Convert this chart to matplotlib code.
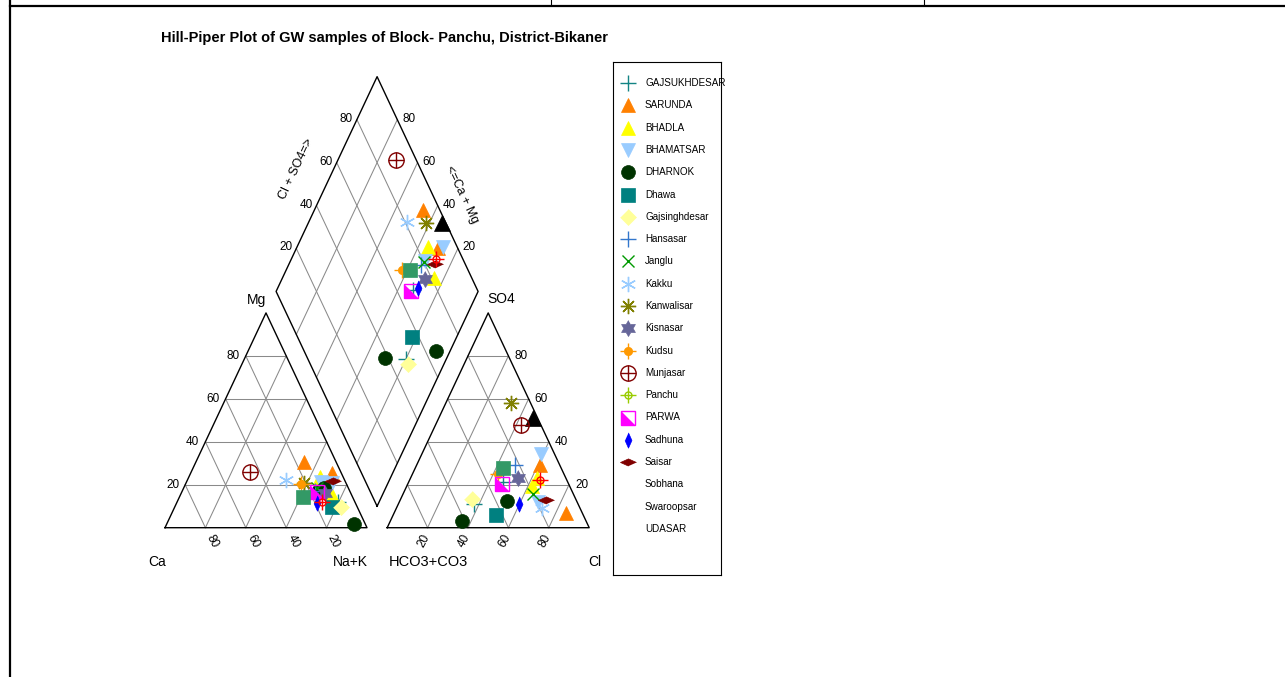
import numpy as np
import matplotlib.pyplot as plt
from matplotlib.lines import Line2D

plt.rcParams['font.family'] = ['Liberation Sans', 'DejaVu Sans']

W, H = 1285, 677

# --- sample data (% meq/l), one row per sample ---
site = ['GAJSUKHDESAR', 'GAJSUKHDESAR', 'SARUNDA', 'SARUNDA', 'BHADLA', 'BHADLA',
        'BHAMATSAR', 'BHAMATSAR', 'DHARNOK', 'DHARNOK', 'Dhawa', 'Gajsinghdesar',
        'Hansasar', 'Janglu', 'Kakku', 'Kanwalisar', 'Kisnasar', 'Kudsu', 'Munjasar',
        'PARWA', 'Sadhuna', 'Saisar', 'Sobhana', 'Swaroopsar', 'UDASAR']
ca   = [8.1, 16.5, 15.7, 4.7, 11.3, 9.7, 6.7, 12.0, 12.3, 5.5, 12.5, 8.0,
        17.3, 15.3, 29.0, 20.7, 13.0, 22.5, 44.9, 16.4, 19.1, 5.8, 24.2, 16.3, 16.1]
mg   = [12.1, 16.0, 30.6, 25.4, 23.8, 15.3, 21.0, 21.3, 18.4, 1.6, 9.8, 9.8,
        17.0, 18.5, 22.3, 21.0, 16.0, 20.2, 26.0, 16.8, 11.4, 21.8, 14.5, 12.1, 18.0]
nak  = [79.8, 67.5, 53.7, 69.9, 64.9, 75.0, 72.3, 66.7, 69.3, 92.9, 77.7, 82.2,
        65.7, 66.2, 48.7, 58.3, 71.0, 57.3, 29.1, 66.8, 69.5, 72.4, 61.3, 71.6, 65.9]
hco3 = [51.6, 31.7, 8.2, 9.7, 14.3, 18.7, 6.9, 19.2, 61.6, 34.6, 43.4, 51.4,
        22.0, 19.9, 18.8, 9.7, 23.4, 32.6, 9.9, 33.0, 29.1, 15.0, 28.5, 13.5, 2.0]
so4  = [10.9, 21.5, 6.7, 29.1, 23.3, 19.4, 34.2, 11.8, 3.1, 12.4, 5.7, 13.5,
        29.4, 15.5, 9.3, 58.0, 23.3, 25.0, 47.7, 20.5, 10.9, 12.7, 28.0, 22.2, 51.3]
cl   = [37.5, 46.8, 85.1, 61.2, 62.4, 61.9, 58.9, 69.0, 35.3, 53.0, 50.9, 35.1,
        48.6, 64.6, 71.9, 32.3, 53.3, 42.4, 42.4, 46.5, 60.0, 72.3, 43.5, 64.3, 46.7]

legend_names = ['GAJSUKHDESAR', 'SARUNDA', 'BHADLA', 'BHAMATSAR', 'DHARNOK', 'Dhawa',
                'Gajsinghdesar', 'Hansasar', 'Janglu', 'Kakku', 'Kanwalisar', 'Kisnasar',
                'Kudsu', 'Munjasar', 'Panchu', 'PARWA', 'Sadhuna', 'Saisar',
                'Sobhana', 'Swaroopsar', 'UDASAR']
no_legend_marker = ['Sobhana', 'Swaroopsar', 'UDASAR']
draw_order = ['UDASAR'] + [n for n in legend_names if n != 'UDASAR']


def star6():
    ang = np.deg2rad(90 + np.arange(12) * 30)
    r = np.where(np.arange(12) % 2 == 0, 1.0, 1 / np.sqrt(3))
    return list(zip(r * np.cos(ang), r * np.sin(ang)))


diamond = [(0, 1), (1, 0), (0, -1), (-1, 0)]
thin_diamond = [(0, 1), (0.45, 0), (0, -1), (-0.45, 0)]
flat_diamond = [(1, 0), (0, 0.45), (-1, 0), (0, -0.45)]
half_square = [(-1, 1), (-1, -1), (1, -1)]


def filled(marker, ms, c):
    return dict(marker=marker, ms=ms, mfc=c, mec=c, mew=0.5)


def lines(marker, ms, c, lw=1.0):
    return dict(marker=marker, ms=ms, mfc='none', mec=c, mew=lw)


styles = {
    'GAJSUKHDESAR': [lines('+', 11, '#138484')],
    'SARUNDA': [filled('^', 10, '#FF8000')],
    'BHADLA': [filled('^', 10, '#FFFF00')],
    'BHAMATSAR': [filled('v', 10, '#99CCFF')],
    'DHARNOK': [filled('o', 10, '#003300')],
    'Dhawa': [filled('s', 10, '#008080')],
    'Gajsinghdesar': [filled(diamond, 11.5, '#FFFF99')],
    'Hansasar': [lines('+', 11, '#3377CC')],
    'Janglu': [lines('x', 9, '#009900')],
    'Kakku': [lines((6, 2, 0), 11, '#99CCFF')],
    'Kanwalisar': [lines((8, 2, 0), 11, '#808000'), filled('o', 3, '#808000')],
    'Kisnasar': [filled(star6(), 11.5, '#666699')],
    'Kudsu': [lines('+', 11, '#FF9900'), filled('o', 6, '#FF9900')],
    'Munjasar': [lines('o', 11, '#800000'), lines('+', 11, '#800000')],
    'Panchu': [lines('o', 5, '#99CC00'), lines('+', 11, '#99CC00')],
    'PARWA': [filled(half_square, 10, '#FF00FF'), lines('s', 10, '#FF00FF')],
    'Sadhuna': [filled(thin_diamond, 11, '#0000FF')],
    'Saisar': [filled(flat_diamond, 11.5, '#800000')],
    'Sobhana': [filled('s', 10.5, '#339966')],
    'Swaroopsar': [lines('o', 5, '#FF0000'), lines('+', 11, '#FF0000')],
    'UDASAR': [filled('^', 11.5, '#000000')],
}

# --- Piper geometry ---
h = np.sqrt(3) / 2
g = 0.1


def cation_xy(c, m, n):
    tot = c + m + n
    return (n + 0.5 * m) / tot, h * m / tot


def anion_xy(b, s, l):
    tot = b + s + l
    return 1 + g + (l + 0.5 * s) / tot, h * s / tot


def diamond_xy(cm, cs):
    return 1 + g / 2 + 0.5 * (cs - cm), g * h + h * (cm + cs)


fig = plt.figure(figsize=(W / 100, H / 100), dpi=100)
ax = fig.add_axes([0, 0, 1, 1])
X0, Y0, SX, SY = 165, 527.7, 202, 248
ax.set_xlim(-X0 / SX, (W - X0) / SX)
ax.set_ylim(-(H - Y0) / SY, Y0 / SY)
ax.axis('off')

grid_kw = dict(color='#8a8a8a', lw=0.75)
edge_kw = dict(color='black', lw=1.0)
fr = [0.2, 0.4, 0.6, 0.8]

# grids
for f in fr:
    for xy in (cation_xy, anion_xy):
        a = [xy(1 - f, f, 0), xy(0, f, 1 - f)]
        b = [xy(f, 1 - f, 0), xy(f, 0, 1 - f)]
        c = [xy(1 - f, 0, f), xy(0, 1 - f, f)]
        for p, q in (a, b, c):
            ax.plot([p[0], q[0]], [p[1], q[1]], **grid_kw)
    for p, q in ((diamond_xy(f, 0), diamond_xy(f, 1)), (diamond_xy(0, f), diamond_xy(1, f))):
        ax.plot([p[0], q[0]], [p[1], q[1]], **grid_kw)

# outlines
for xy in (cation_xy, anion_xy):
    pts = [xy(1, 0, 0), xy(0, 0, 1), xy(0, 1, 0), xy(1, 0, 0)]
    ax.plot([p[0] for p in pts], [p[1] for p in pts], **edge_kw)
pts = [diamond_xy(0, 0), diamond_xy(0, 1), diamond_xy(1, 1), diamond_xy(1, 0), diamond_xy(0, 0)]
ax.plot([p[0] for p in pts], [p[1] for p in pts], **edge_kw)

tick_fs = 8.5


def label(txt, xy, dx, dy, **kw):
    ax.annotate(txt, xy=xy, xytext=(dx, dy), textcoords='offset pixels',
                ha=kw.pop('ha', 'center'), va=kw.pop('va', 'center'), **kw)


for f in fr:
    v = int(round(f * 100))
    label(str(v), cation_xy(1 - f, f, 0), -6, 0, ha='right', fontsize=tick_fs)
    label(str(v), cation_xy(f, 0, 1 - f), 7, -14, rotation=-62, fontsize=tick_fs)
    label(str(v), anion_xy(1 - f, 0, f), -4, -13, rotation=62, fontsize=tick_fs)
    label(str(v), anion_xy(0, f, 1 - f), 6, 0, ha='left', fontsize=tick_fs)
    label(str(v), diamond_xy(1, f), -4, 1, ha='right', fontsize=tick_fs)
    label(str(v), diamond_xy(f, 1), 5, 1, ha='left', fontsize=tick_fs)

lab_fs = 10
label('Mg', cation_xy(0, 1, 0), -9, 13, fontsize=lab_fs)
label('Ca', cation_xy(1, 0, 0), -8, -34, fontsize=lab_fs)
label('Na+K', cation_xy(0, 0, 1), -17, -34, fontsize=lab_fs)
label('SO4', anion_xy(0, 1, 0), 13, 14, fontsize=lab_fs)
label('HCO3+CO3', anion_xy(1, 0, 0), 41, -34, fontsize=10.5)
label('Cl', anion_xy(0, 0, 1), 6, -34, fontsize=lab_fs)
label('Cl + SO4=>', diamond_xy(1, 0.5), -30, 15, rotation=64.8, fontsize=9)
label('<=Ca + Mg', diamond_xy(0.5, 1), 34, -11, rotation=-64.8, fontsize=9)

# samples
site_arr = np.array(site)
ca, mg, nak = np.array(ca), np.array(mg), np.array(nak)
hco3, so4, cl = np.array(hco3), np.array(so4), np.array(cl)
for name in draw_order:
    idx = site_arr == name
    if not idx.any():
        continue
    cx, cy = cation_xy(ca[idx], mg[idx], nak[idx])
    axx, ayy = anion_xy(hco3[idx], so4[idx], cl[idx])
    cm = (ca[idx] + mg[idx]) / (ca[idx] + mg[idx] + nak[idx])
    cs = (so4[idx] + cl[idx]) / (hco3[idx] + so4[idx] + cl[idx])
    dx, dy = diamond_xy(cm, cs)
    xs = np.concatenate([cx, axx, dx])
    ys = np.concatenate([cy, ayy, dy])
    for layer in styles[name]:
        ax.plot(xs, ys, linestyle='none', **layer)

fig.text(161 / W, 1 - 38 / H, 'Hill-Piper Plot of GW samples of Block- Panchu, District-Bikaner',
         fontsize=10.5, fontweight='bold', ha='left', va='center')

# legend box
lx0, ly0, lx1, ly1 = 613, 62, 721, 575
lax = fig.add_axes([lx0 / W, 1 - ly1 / H, (lx1 - lx0) / W, (ly1 - ly0) / H])
lax.set_xlim(0, lx1 - lx0)
lax.set_ylim(ly1 - ly0, 0)
lax.set_xticks([])
lax.set_yticks([])
for sp in lax.spines.values():
    sp.set_linewidth(0.8)
for i, name in enumerate(legend_names):
    yy = 21 + 22.3 * i
    if name not in no_legend_marker:
        for layer in styles[name]:
            lax.plot([15], [yy], linestyle='none', clip_on=False, **layer)
    lax.text(32, yy, name, fontsize=7.1, va='center', ha='left')

# page table borders
fig.add_artist(Line2D([10 / W, 1], [1 - 5.7 / H] * 2, transform=fig.transFigure, color='black', lw=1.6))
fig.add_artist(Line2D([10 / W] * 2, [0, 1], transform=fig.transFigure, color='black', lw=1.6))
for xp in (551, 924):
    fig.add_artist(Line2D([xp / W] * 2, [1 - 5 / H, 1], transform=fig.transFigure, color='black', lw=0.8))

fig.savefig('out.png', dpi=100)
